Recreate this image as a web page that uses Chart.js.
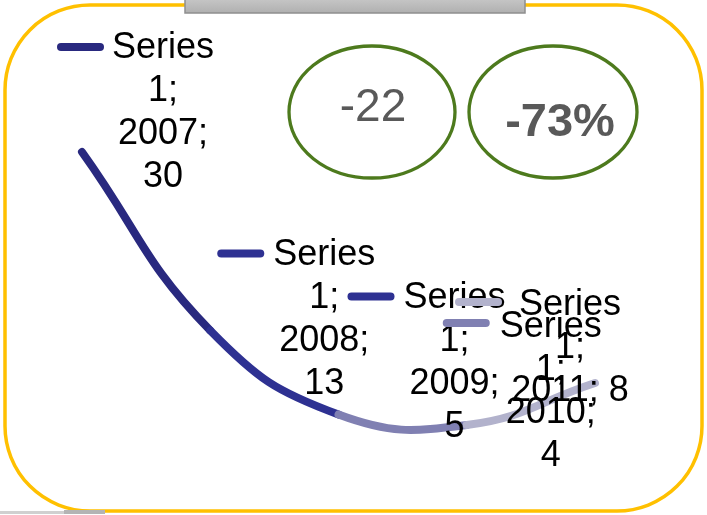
<!DOCTYPE html>
<html>
<head>
<meta charset="utf-8">
<script src="https://cdn.jsdelivr.net/npm/chart.js@4.4.1/dist/chart.umd.min.js"></script>
<style>
  html, body { margin: 0; padding: 0; background: #ffffff; }
  #wrap { width: 707px; height: 515px; position: relative; }
</style>
</head>
<body>
<div id="wrap"><canvas id="c" width="707" height="515"></canvas></div>
<script>
// ---- data ----
const categories = ["2007", "2008", "2009", "2010", "2011"];
const seriesName = "Series 1";
const seriesValues = [30, 13, 5, 4, 8];
const pointColors = ["#29297f", "#2e3192", "#2e3192", "#8080b2", "#b2b2cc"];
const segmentColors = ["#29297f", "#2e3192", "#8080b2", "#b2b2cc"];
const calloutTexts = ["-22", "-73%"];

// label text lines (as Excel wrapped them)
const labelLines = [
  ["Series", "1;", "2007;", "30"],
  ["Series", "1;", "2008;", "13"],
  ["Series", "1;", "2009;", "5"],
  ["Series", "1;", "2010;", "4"],
  ["Series", "1;", "2011; 8"]
];
// offsets of each label from its point: text centre dx, first line dy, key left dx, key dy
const labelOffsets = [
  {tx: 81,  ty: -104, kx: -25, ky: -105},
  {tx: 114, ty: -75,  kx: 7,   ky: -77},
  {tx: 116, ty: -116, kx: 9,   ky: -118},
  {tx: 84,  ty: -98,  kx: -24, ky: -102},
  {tx: -25, ty: -78,  kx: -140, ky: -81}
];

const FONT = "'Liberation Sans', Arial, sans-serif";

const decorPlugin = {
  id: 'decor',
  beforeDraw(chart) {
    const ctx = chart.ctx;
    ctx.save();
    ctx.fillStyle = '#ffffff';
    ctx.fillRect(0, 0, chart.width, chart.height);
    // yellow rounded frame
    ctx.strokeStyle = '#ffc000';
    ctx.lineWidth = 3.5;
    ctx.beginPath();
    ctx.roundRect(5, 5, 697, 506, 85);
    ctx.stroke();
    // gray bar at top
    const g = ctx.createLinearGradient(0, 0, 0, 13);
    g.addColorStop(0, '#c4c4c4');
    g.addColorStop(1, '#b0b0b0');
    ctx.fillStyle = g;
    ctx.fillRect(185, -2, 340, 15);
    ctx.strokeStyle = '#8f8f8f';
    ctx.lineWidth = 1.5;
    ctx.strokeRect(185, -2, 340, 15);
    // gray line at bottom left
    ctx.fillStyle = '#d0d0d0';
    ctx.fillRect(0, 511, 64, 3);
    ctx.fillStyle = '#b4b4b4';
    ctx.fillRect(64, 510, 41, 4);
    // ellipses
    ctx.strokeStyle = '#4d7a1d';
    ctx.lineWidth = 3.3;
    ctx.beginPath();
    ctx.ellipse(372, 112, 83, 66, 0, 0, Math.PI * 2);
    ctx.stroke();
    ctx.beginPath();
    ctx.ellipse(553, 112, 84, 66, 0, 0, Math.PI * 2);
    ctx.stroke();
    ctx.fillStyle = '#595959';
    ctx.textAlign = 'center';
    ctx.textBaseline = 'middle';
    ctx.font = "46px " + FONT;
    ctx.fillText(calloutTexts[0], 373, 108);
    ctx.font = "bold 47px " + FONT;
    ctx.fillText(calloutTexts[1], 560, 123);
    ctx.restore();
  },
  afterDatasetsDraw(chart) {
    const ctx = chart.ctx;
    const meta = chart.getDatasetMeta(0);
    ctx.save();
    meta.data.forEach((pt, i) => {
      const o = labelOffsets[i];
      // legend key
      ctx.strokeStyle = pointColors[i];
      ctx.lineWidth = 8;
      ctx.lineCap = 'round';
      ctx.beginPath();
      ctx.moveTo(pt.x + o.kx + 4, pt.y + o.ky);
      ctx.lineTo(pt.x + o.kx + 43, pt.y + o.ky);
      ctx.stroke();
      // text
      ctx.fillStyle = '#000000';
      ctx.font = "36px " + FONT;
      ctx.textAlign = 'center';
      ctx.textBaseline = 'middle';
      labelLines[i].forEach((line, j) => {
        ctx.fillText(line, pt.x + o.tx, pt.y + o.ty + j * 43);
      });
    });
    ctx.restore();
  }
};

new Chart(document.getElementById('c'), {
  type: 'line',
  data: {
    labels: categories,
    datasets: [{
      label: seriesName,
      data: seriesValues,
      borderColor: pointColors[0],
      borderWidth: 8,
      borderCapStyle: 'round',
      borderJoinStyle: 'round',
      tension: 0.45,
      pointRadius: 0,
      clip: false,
      fill: false,
      segment: {
        borderColor: c => segmentColors[c.p0DataIndex]
      }
    }]
  },
  options: {
    responsive: false,
    animation: false,
    events: [],
    layout: { padding: { left: 82, right: 112, top: 152, bottom: 48 } },
    plugins: { legend: { display: false }, tooltip: { enabled: false } },
    scales: {
      x: { display: false, offset: false },
      y: { display: false, min: 0, max: 30 }
    }
  },
  plugins: [decorPlugin]
});
</script>
</body>
</html>
